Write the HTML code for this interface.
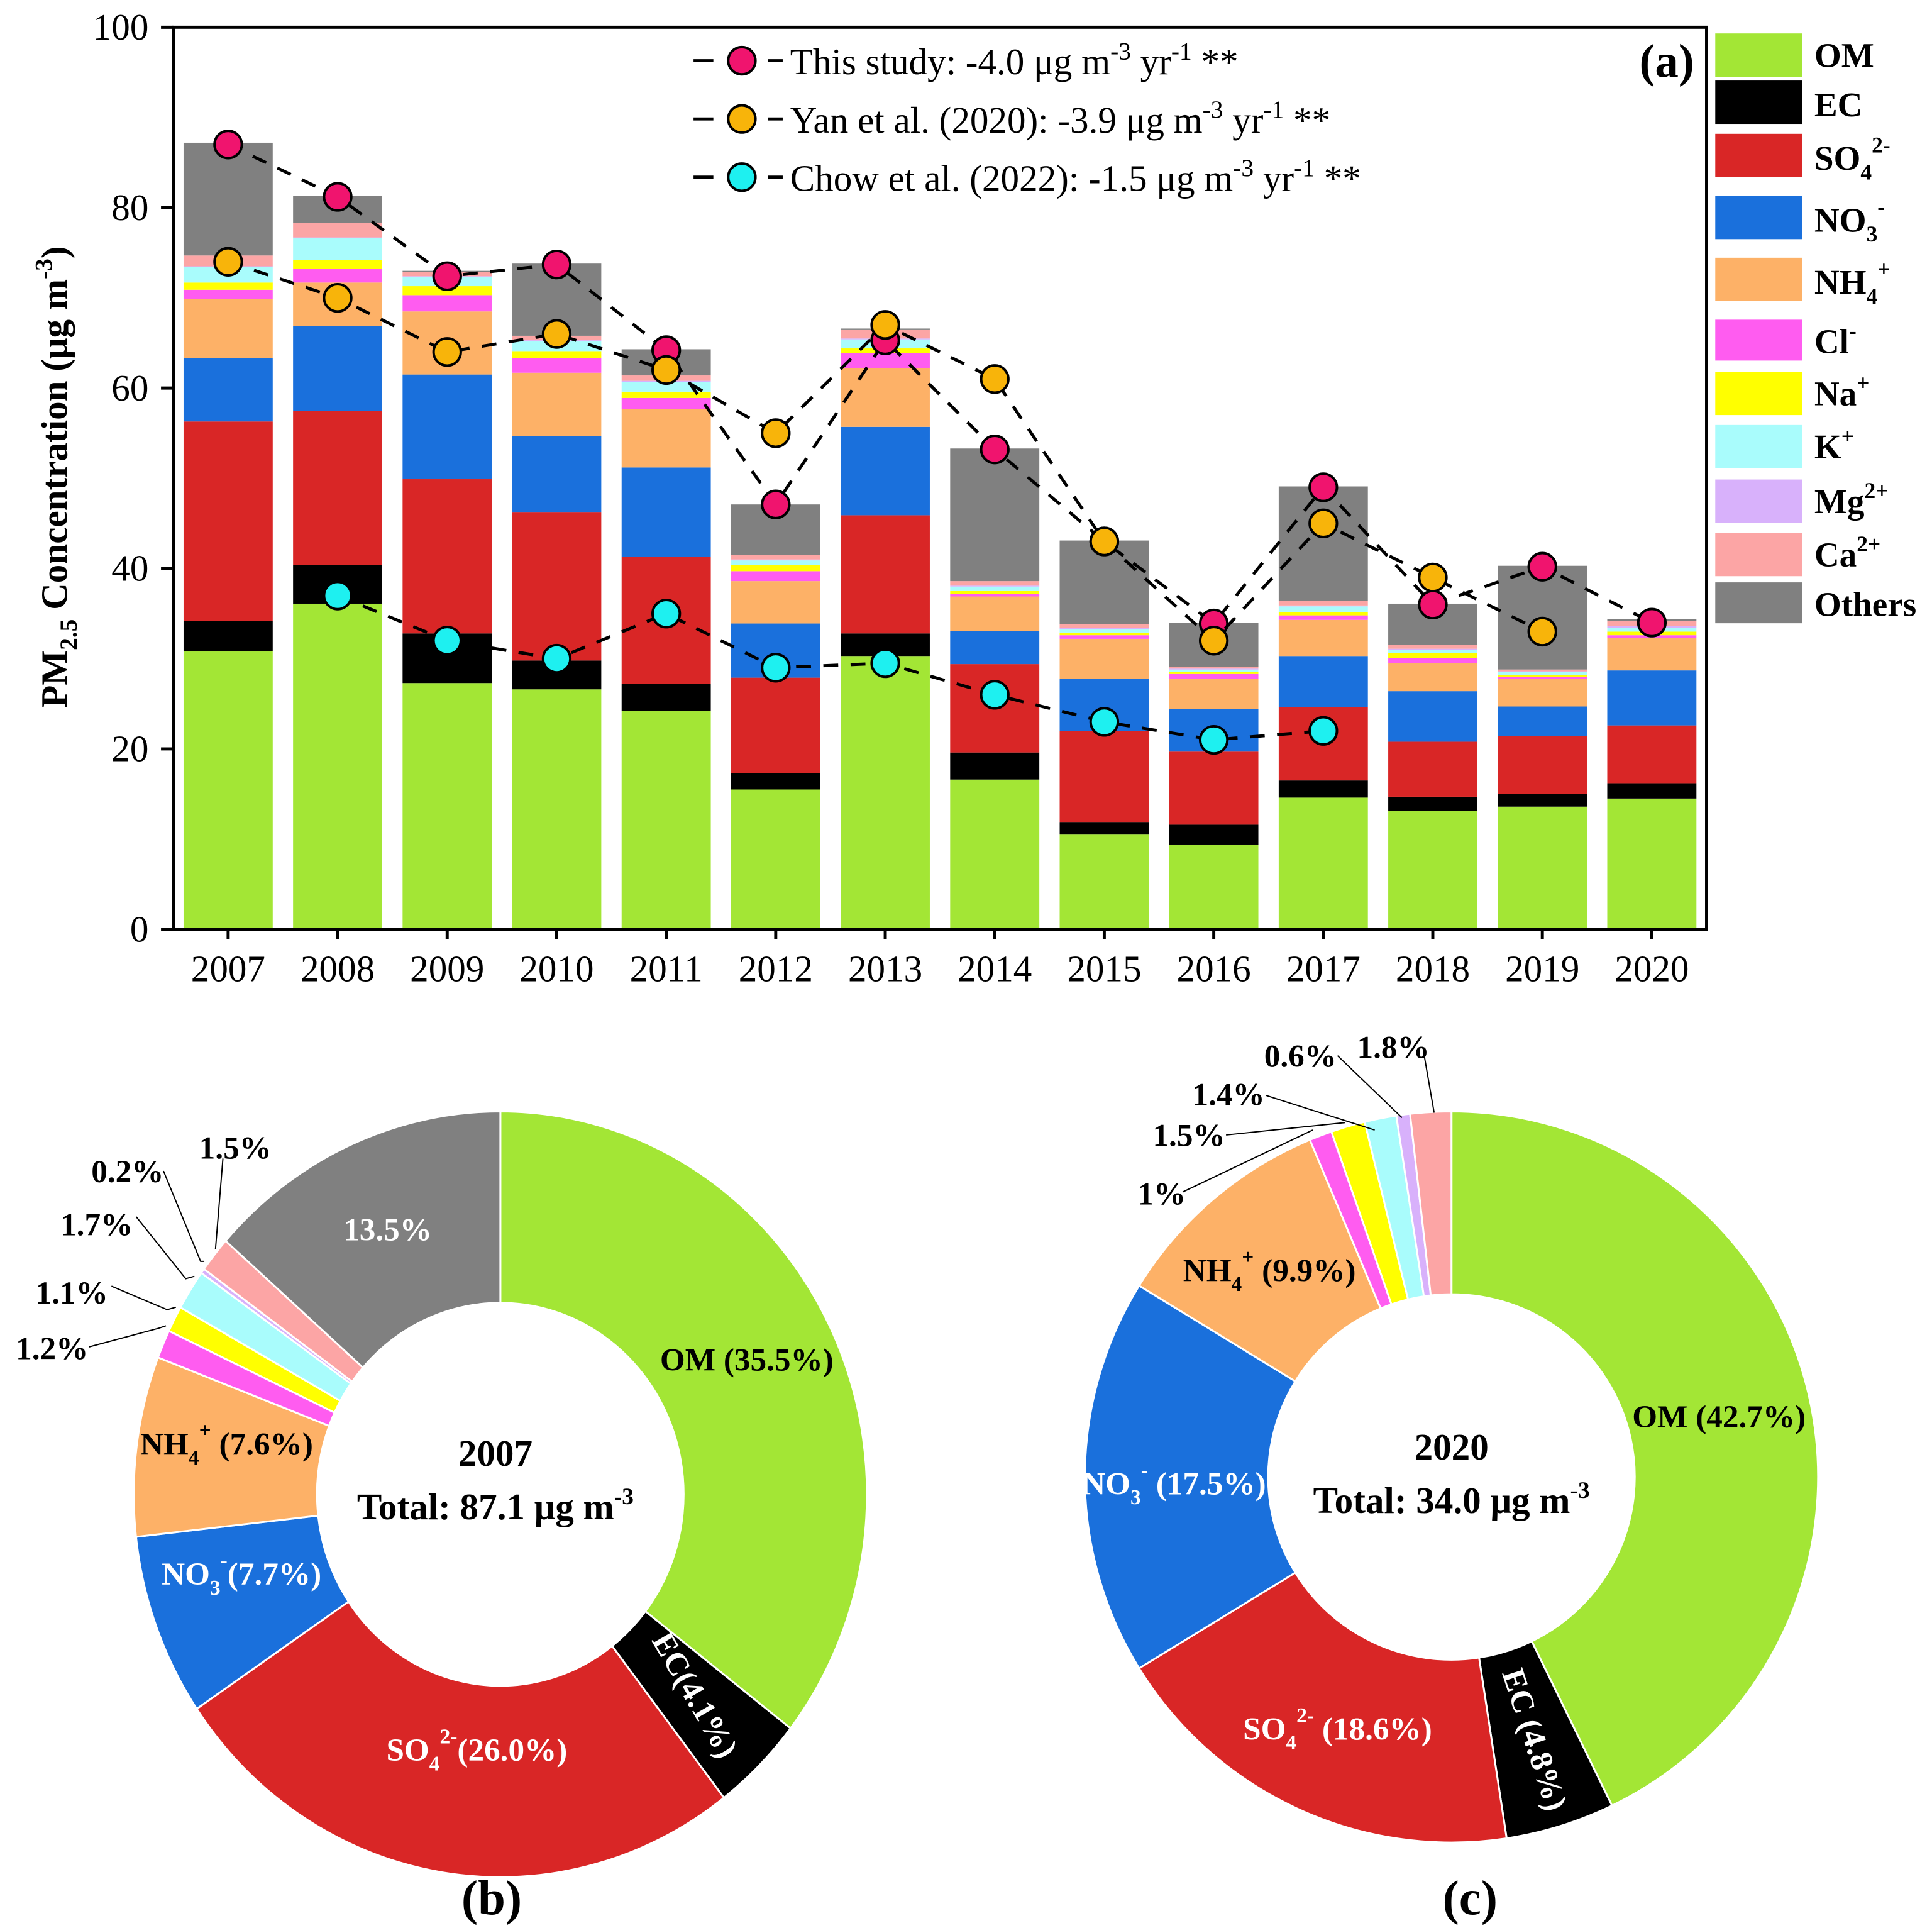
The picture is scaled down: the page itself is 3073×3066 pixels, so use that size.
<!DOCTYPE html>
<html><head><meta charset="utf-8"><style>
html,body{margin:0;padding:0;background:#fff}
svg{display:block}
svg,text,tspan{font-family:"Liberation Serif","Times New Roman",serif}
.b{font-weight:bold}
</style></head><body>
<svg id="s" xmlns="http://www.w3.org/2000/svg" width="3073" height="3066" viewBox="0 0 1560 1556" preserveAspectRatio="none" font-family="Liberation Serif, serif">
<g id="bars"></g>
<g id="lines"></g>
<rect x="140" y="22" width="1238" height="728" fill="none" stroke="#000" stroke-width="2.5"/>
<g id="axes" font-size="30"></g>
<text class="b" font-size="30" transform="translate(54,385) rotate(-90)" text-anchor="middle">PM<tspan font-size="20" dy="8">2.5</tspan><tspan dy="-8"> Concentration (μg m</tspan><tspan font-size="20" dy="-12">-3</tspan><tspan dy="12">)</tspan></text>
<text class="b" font-size="38" x="1368" y="62" text-anchor="end">(a)</text>
<g font-size="30">
 <line x1="560" y1="49" x2="576" y2="49" stroke="#000" stroke-width="2.5"/><line x1="620" y1="49" x2="632" y2="49" stroke="#000" stroke-width="2.5"/>
 <circle cx="599" cy="49" r="11" fill="#f0146e" stroke="#000" stroke-width="2"/>
 <text x="638" y="60">This study: -4.0 μg m<tspan font-size="20" dy="-12">-3</tspan><tspan dy="12"> yr</tspan><tspan font-size="20" dy="-12">-1</tspan><tspan dy="12"> **</tspan></text>
 <line x1="560" y1="96" x2="576" y2="96" stroke="#000" stroke-width="2.5"/><line x1="620" y1="96" x2="632" y2="96" stroke="#000" stroke-width="2.5"/>
 <circle cx="599" cy="96" r="11" fill="#f8b40a" stroke="#000" stroke-width="2"/>
 <text x="638" y="107">Yan et al. (2020):  -3.9 μg m<tspan font-size="20" dy="-12">-3</tspan><tspan dy="12"> yr</tspan><tspan font-size="20" dy="-12">-1</tspan><tspan dy="12"> **</tspan></text>
 <line x1="560" y1="143" x2="576" y2="143" stroke="#000" stroke-width="2.5"/><line x1="620" y1="143" x2="632" y2="143" stroke="#000" stroke-width="2.5"/>
 <circle cx="599" cy="143" r="11" fill="#1ef0f0" stroke="#000" stroke-width="2"/>
 <text x="638" y="154">Chow et al. (2022):  -1.5 μg m<tspan font-size="20" dy="-12">-3</tspan><tspan dy="12"> yr</tspan><tspan font-size="20" dy="-12">-1</tspan><tspan dy="12"> **</tspan></text>
</g>
<g class="b" font-size="28">
 <rect x="1385" y="27" width="70" height="35" fill="#a3e635"/><text x="1465" y="54">OM</text>
 <rect x="1385" y="65" width="70" height="35" fill="#000"/><text x="1465" y="94">EC</text>
 <rect x="1385" y="108" width="70" height="35" fill="#d92626"/><text x="1465" y="137">SO<tspan font-size="18" dy="8">4</tspan><tspan font-size="18" dy="-22">2-</tspan></text>
 <rect x="1385" y="158" width="70" height="35" fill="#1a70dc"/><text x="1465" y="187">NO<tspan font-size="18" dy="8">3</tspan><tspan font-size="18" dy="-22">-</tspan></text>
 <rect x="1385" y="208" width="70" height="35" fill="#fdb167"/><text x="1465" y="237">NH<tspan font-size="18" dy="8">4</tspan><tspan font-size="18" dy="-22">+</tspan></text>
 <rect x="1385" y="258" width="70" height="33" fill="#ff5cf0"/><text x="1465" y="285">Cl<tspan font-size="18" dy="-12">-</tspan></text>
 <rect x="1385" y="300" width="70" height="35" fill="#ffff00"/><text x="1465" y="327">Na<tspan font-size="18" dy="-12">+</tspan></text>
 <rect x="1385" y="343" width="70" height="35" fill="#a9fcfc"/><text x="1465" y="370">K<tspan font-size="18" dy="-12">+</tspan></text>
 <rect x="1385" y="387" width="70" height="35" fill="#d8b1fb"/><text x="1465" y="414">Mg<tspan font-size="18" dy="-12">2+</tspan></text>
 <rect x="1385" y="430" width="70" height="35" fill="#fca5a5"/><text x="1465" y="457">Ca<tspan font-size="18" dy="-12">2+</tspan></text>
 <rect x="1385" y="470" width="70" height="33" fill="#808080"/><text x="1465" y="497">Others</text>
</g>
<g id="pieB"></g>
<g id="pieC"></g>
<g class="b" font-size="26" text-anchor="middle">
 <text x="603" y="1106">OM (35.5%)</text>
 <text fill="#fff" dominant-baseline="central" transform="translate(561,1368) rotate(60)">EC(4.1%)</text>
 <text fill="#fff" x="385" y="1421">SO<tspan font-size="17" dy="8">4</tspan><tspan font-size="17" dy="-22">2-</tspan><tspan dy="14">(26.0%)</tspan></text>
 <text fill="#fff" x="195" y="1279">NO<tspan font-size="17" dy="8">3</tspan><tspan font-size="17" dy="-22">-</tspan><tspan dy="14">(7.7%)</tspan></text>
 <text x="183" y="1174">NH<tspan font-size="17" dy="8">4</tspan><tspan font-size="17" dy="-22">+</tspan><tspan dy="14"> (7.6%)</tspan></text>
 <text fill="#fff" x="313" y="1001">13.5%</text>
 <text x="42" y="1097">1.2%</text><text x="58" y="1052">1.1%</text><text x="78" y="997">1.7%</text><text x="103" y="954">0.2%</text><text x="190" y="935">1.5%</text>
 <text x="400" y="1183" font-size="30">2007</text>
 <text x="400" y="1226" font-size="30">Total: 87.1 μg m<tspan font-size="19" dy="-12">-3</tspan></text>
 <text x="397" y="1545" font-size="40">(b)</text>
</g>
<g stroke="#000" stroke-width="1" fill="none">
 <polyline points="72,1087 128,1072 134,1070"/><polyline points="90,1038 135,1057 142,1055"/><polyline points="110,982 150,1032 157,1030"/><polyline points="132,945 162,1018 165,1018"/><polyline points="180,935 174,1008"/>
</g>
<g class="b" font-size="26" text-anchor="middle">
 <text x="1388" y="1152">OM (42.7%)</text>
 <text fill="#fff" dominant-baseline="central" transform="translate(1239,1404) rotate(72)">EC (4.8%)</text>
 <text fill="#fff" x="1080" y="1404">SO<tspan font-size="17" dy="8">4</tspan><tspan font-size="17" dy="-22">2-</tspan><tspan dy="14"> (18.6%)</tspan></text>
 <text fill="#fff" x="948" y="1206">NO<tspan font-size="17" dy="8">3</tspan><tspan font-size="17" dy="-22">-</tspan><tspan dy="14"> (17.5%)</tspan></text>
 <text x="1025" y="1034">NH<tspan font-size="17" dy="8">4</tspan><tspan font-size="17" dy="-22">+</tspan><tspan dy="14"> (9.9%)</tspan></text>
 <text x="938" y="972">1%</text><text x="960" y="925">1.5%</text><text x="992" y="892">1.4%</text><text x="1050" y="861">0.6%</text><text x="1125" y="854">1.8%</text>
 <text x="1172" y="1178" font-size="30">2020</text>
 <text x="1172" y="1221" font-size="30">Total: 34.0 μg m<tspan font-size="19" dy="-12">-3</tspan></text>
 <text x="1187" y="1545" font-size="40">(c)</text>
</g>
<g stroke="#000" stroke-width="1" fill="none">
 <polyline points="955,962 1060,912"/><polyline points="990,916 1086,906"/><polyline points="1022,884 1110,912"/><polyline points="1080,852 1132,902"/><polyline points="1150,852 1158,898"/>
</g>
</svg>
<script>
const years=["2007","2008","2009","2010","2011","2012","2013","2014","2015","2016","2017","2018","2019","2020"];
const OM=[30.8,36.1,27.3,26.6,24.2,15.5,30.3,16.6,10.5,9.4,14.6,13.1,13.6,14.5];
const EC=[3.4,4.3,5.5,3.2,3.0,1.8,2.5,3.0,1.4,2.2,1.9,1.6,1.4,1.7];
const SO4=[22.1,17.1,17.1,16.4,14.1,10.6,13.1,9.8,10.1,8.1,8.1,6.1,6.4,6.4];
const NO3=[7.0,9.4,11.6,8.5,9.9,6.0,9.8,3.7,5.8,4.7,5.7,5.6,3.3,6.1];
const NH4=[6.6,4.8,7.0,7.0,6.5,4.7,6.5,3.8,4.4,3.4,4.0,3.1,3.1,3.6];
const CL=[1.0,1.5,1.8,1.6,1.2,1.1,1.7,0.3,0.4,0.5,0.5,0.6,0.2,0.3];
const NA=[0.8,1.0,1.0,0.8,0.7,0.7,0.5,0.3,0.3,0.2,0.4,0.5,0.2,0.4];
const KI=[1.7,2.4,1.0,1.1,1.1,0.5,1.0,0.5,0.4,0.3,0.6,0.4,0.3,0.4];
const MG=[0.1,0.1,0.1,0.1,0.1,0.1,0.1,0.1,0.1,0.1,0.1,0.1,0.1,0.2];
const CA=[1.2,1.6,0.5,0.5,0.6,0.5,1.0,0.5,0.4,0.2,0.5,0.4,0.2,0.6];
const OTH=[12.5,3.0,0.1,8.0,2.9,5.6,0.1,14.7,9.3,4.9,12.7,4.6,11.5,0.2];
const thisStudy=[87.0,81.2,72.4,73.7,64.2,47.1,65.3,53.2,43.0,33.9,49.0,36.0,40.2,34.0];
const yan=[74,70,64,66,62,55,67,61,43,32,45,39,33,null];
const chow=[null,37,32,30,35,29,29.5,26,23,21,22,null,null,null];
const yTicks=[0,20,40,60,80,100];
const pieB=[35.5,4.1,26.0,7.7,7.6,1.2,1.1,1.7,0.2,1.5,13.5];
const pieC=[42.7,4.8,18.6,17.5,9.9,1.0,1.5,1.4,0.6,1.8,0];
const compNames=["om","ec","so4","no3","nh4","cl","na","k","mg","ca","others"];
const colors=["#a3e635","#000000","#d92626","#1a70dc","#fdb167","#ff5cf0","#ffff00","#a9fcfc","#d8b1fb","#fca5a5","#808080"];
const NS="http://www.w3.org/2000/svg";
const X0=140,X1=1378,Y0=750,Y1=22;
const band=(X1-X0)/years.length;
function xc(i){return X0+band*(i+0.5);}
function yv(v){return Y0-(v/100)*(Y0-Y1);}
function mk(tag,at,parent){const e=document.createElementNS(NS,tag);for(const k in at)e.setAttribute(k,at[k]);parent.appendChild(e);return e;}
const comps=[OM,EC,SO4,NO3,NH4,CL,NA,KI,MG,CA,OTH];
const gb=document.getElementById('bars');
years.forEach((y,i)=>{let acc=0;comps.forEach((c,j)=>{const v=c[i];const r=mk('rect',{x:xc(i)-36,y:yv(acc+v),width:72,height:yv(acc)-yv(acc+v),fill:colors[j]},gb);


acc+=v;});});
const ga=document.getElementById('axes');
yTicks.forEach(t=>{mk('line',{x1:X0,x2:X0-10,y1:yv(t),y2:yv(t),stroke:'#000','stroke-width':2.5},ga);
const tx=mk('text',{x:X0-20,y:yv(t)+10,'text-anchor':'end'},ga);tx.textContent=t;

});
years.forEach((y,i)=>{mk('line',{x1:xc(i),x2:xc(i),y1:Y0,y2:Y0+8,stroke:'#000','stroke-width':2.5},ga);
const tx=mk('text',{x:xc(i),y:Y0+42,'text-anchor':'middle'},ga);tx.textContent=y;

});
const gl=document.getElementById('lines');
function series(data,color,name){let segs=[];let cur=[];data.forEach((v,i)=>{if(v==null){if(cur.length)segs.push(cur);cur=[];}else cur.push(xc(i)+','+yv(v));});if(cur.length)segs.push(cur);
segs.forEach(s=>{const p=mk('polyline',{points:s.join(' '),fill:'none',stroke:'#000','stroke-width':2.5,'stroke-dasharray':'12,10'},gl);

});
data.forEach((v,i)=>{if(v==null)return;const c=mk('circle',{cx:xc(i),cy:yv(v),r:11,fill:color,stroke:'#000','stroke-width':2},gl);

});}
series(thisStudy,'#f0146e','this-study');
series(yan,'#f8b40a','yan');
series(chow,'#1ef0f0','chow');
function donut(id,vals,cx,cy,rx,ry,ri,label){const g=document.getElementById(id);const tot=vals.reduce((a,b)=>a+b,0);let a0=0;
vals.forEach((v,j)=>{if(v<=0)return;const a1=a0+v/tot*2*Math.PI;const large=(a1-a0)>Math.PI?1:0;
const P=(r,a)=>[cx+rx*r*Math.sin(a),cy-ry*r*Math.cos(a)];
const [x0,y0]=P(1,a0),[x1,y1]=P(1,a1),[x2,y2]=P(ri,a1),[x3,y3]=P(ri,a0);
const d=`M${x0},${y0} A${rx},${ry} 0 ${large} 1 ${x1},${y1} L${x2},${y2} A${rx*ri},${ry*ri} 0 ${large} 0 ${x3},${y3} Z`;
const p=mk('path',{d:d,fill:colors[j],stroke:'#fff','stroke-width':1.5},g);


a0=a1;});}
donut('pieB',pieB,404,1206,296,309,0.5,'donut-2007');
donut('pieC',pieC,1172,1192,296,295,0.5,'donut-2020');
</script>
</body></html>
